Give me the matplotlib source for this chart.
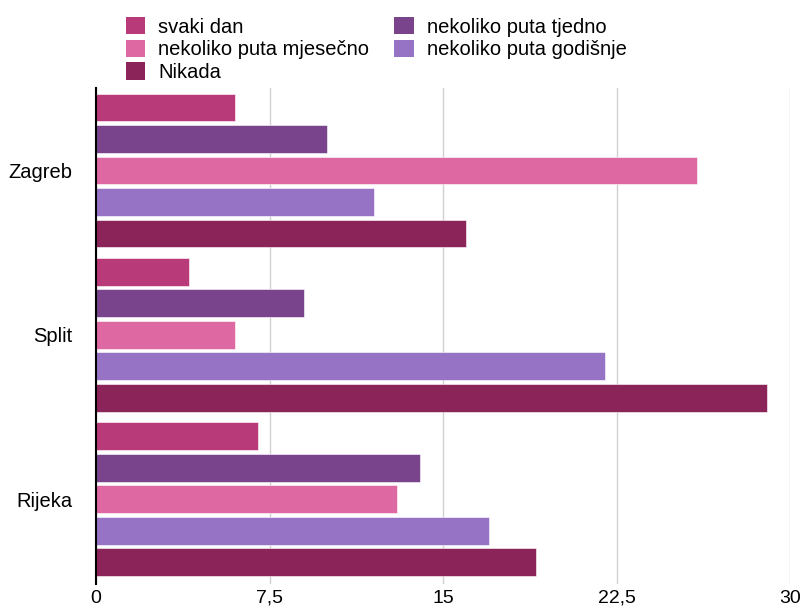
import numpy as np
import matplotlib.pyplot as plt
from matplotlib.patches import Patch

plt.rcParams['font.family'] = ['Liberation Sans', 'DejaVu Sans']

gradovi = ["Zagreb", "Split", "Rijeka"]
serije = ["svaki dan", "nekoliko puta tjedno", "nekoliko puta mjesečno",
          "nekoliko puta godišnje", "Nikada"]
svaki_dan = [6, 4, 7]
tjedno = [10, 9, 14]
mjesecno = [26, 6, 13]
godisnje = [12, 22, 17]
nikada = [16, 29, 19]
boje = ["#B93A78", "#79448C", "#DD68A2", "#9773C6", "#8B2459"]

vrijednosti = [svaki_dan, tjedno, mjesecno, godisnje, nikada]
x_ticks = [0, 7.5, 15, 22.5, 30]
x_labels = ["0", "7,5", "15", "22,5", "30"]

slika = plt.figure(figsize=(8.03, 6.12), dpi=100)
ax = slika.add_axes([0.1196, 0.0458, 0.8642, 0.8104])

y = np.arange(len(gradovi))
korak = 0.1915
visina = 0.17
for i, (v, c) in enumerate(zip(vrijednosti, boje)):
    ax.barh(y + (i - 2) * korak, v, height=visina, color=c,
            edgecolor="white", linewidth=0.4, zorder=3)

ax.set_xlim(0, 30)
ax.set_ylim(2.514, -0.5015)
ax.set_xticks(x_ticks)
ax.set_xticklabels(x_labels, fontsize=14)
ax.set_yticks(y)
ax.set_yticklabels(gradovi, fontsize=14.5)
ax.tick_params(axis="x", length=0, pad=4)
ax.tick_params(axis="y", length=0, pad=17)
ax.grid(axis="x", color="#d0d0d0", lw=1, zorder=0)
for s in ["top", "right", "bottom"]:
    ax.spines[s].set_visible(False)
ax.spines["left"].set_color("black")
ax.spines["left"].set_linewidth(1.5)
ax.spines["left"].set_zorder(4)

red = [0, 2, 4, 1, 3]
rucke = [Patch(facecolor=boje[i], label=serije[i]) for i in red]
slika.legend(handles=rucke, ncol=2, loc="upper left",
             bbox_to_anchor=(126 / 803, 1 - 17 / 612),
             borderpad=0, borderaxespad=0,
             frameon=False, fontsize=14.5, handlelength=0.95, handleheight=0.95,
             handletextpad=0.65, columnspacing=1.25, labelspacing=0.15)

plt.savefig("out.png")
